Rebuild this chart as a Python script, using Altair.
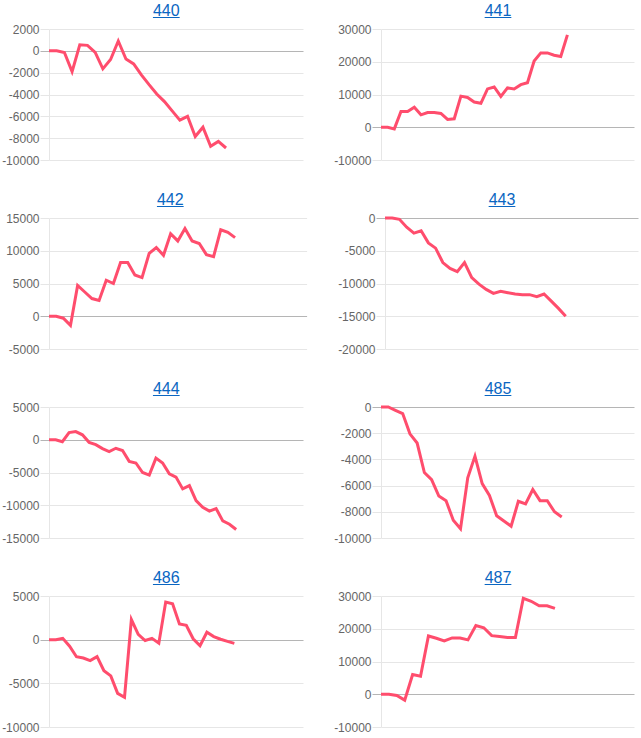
import altair as alt
import pandas as pd

FONT = "Liberation Sans"
LINE_COLOR = "#ff4d6d"
TITLE_COLOR = "#0a66c2"
GRID = "#e6e6e6"
ZERO = "#b5b5b5"

titles = ["440", "441", "442", "443", "444", "485", "486", "487"]

s440 = [0, 0, -150, -1900, 550, 500, -150, -1650, -800, 900, -750, -1200, -2200, -3100,
        -3950, -4650, -5500, -6350, -6000, -7850, -7000, -8750, -8300, -8900]
s441 = [0, 0, -500, 4800, 4800, 6100, 3800, 4500, 4500, 4200, 2400, 2600, 9500, 9100, 7700,
        7300, 11700, 12300, 9400, 12000, 11700, 13000, 13600, 20200, 22700, 22700, 22000,
        21600, 28200]
s442 = [0, 0, -300, -1400, 4700, 3700, 2700, 2400, 5500, 5000, 8200, 8200, 6300, 5900, 9600,
        10500, 9300, 12600, 11500, 13400, 11500, 11100, 9400, 9100, 13200, 12800, 12000]
s443 = [0, 0, -200, -1400, -2300, -1950, -3800, -4600, -6800, -7700, -8200, -6800, -9100,
        -10100, -10900, -11500, -11200, -11400, -11600, -11700, -11700, -12000, -11600,
        -12700, -13800, -15000]
s444 = [0, 0, -300, 1100, 1250, 750, -400, -750, -1350, -1800, -1300, -1650, -3300, -3550,
        -5000, -5400, -2800, -3550, -5200, -5700, -7500, -7000, -9300, -10300, -10900,
        -10500, -12400, -12900, -13700]
s485 = [0, 0, -250, -500, -2050, -2750, -5000, -5550, -6800, -7150, -8650, -9300, -5400,
        -3750, -5850, -6750, -8300, -8700, -9100, -7200, -7400, -6300, -7150, -7150, -8000,
        -8400]
s486 = [0, 0, 150, -750, -1950, -2100, -2400, -1950, -3550, -4150, -6150, -6600, 2300, 600,
        -100, 150, -400, 4300, 4100, 1800, 1650, 100, -700, 850, 350, 50, -200, -420]
s487 = [0, 0, -400, -1800, 6000, 5500, 17800, 17100, 16300, 17200, 17200, 16600, 21000,
        20300, 17900, 17600, 17300, 17300, 29300, 28400, 27000, 27000, 26200]

t440 = [-10000, -8000, -6000, -4000, -2000, 0, 2000]
t441 = [-10000, 0, 10000, 20000, 30000]
t442 = [-5000, 0, 5000, 10000, 15000]
t443 = [-20000, -15000, -10000, -5000, 0]
t444 = [-15000, -10000, -5000, 0, 5000]
t485 = [-10000, -8000, -6000, -4000, -2000, 0]
t486 = [-10000, -5000, 0, 5000]
t487 = [-10000, 0, 10000, 20000, 30000]

series = [s440, s441, s442, s443, s444, s485, s486, s487]
ticks = [t440, t441, t442, t443, t444, t485, t486, t487]

# plot-area geometry per panel: (plot width, title centre relative to plot left)
geom = [(254, 117.3), (253, 117.0), (257.6, 121.3), (253, 117.0),
        (254, 117.3), (253, 117.0), (254, 117.3), (253, 117.0)]
PLOT_H = 131
TITLE_W = 26.7


def panel(name, values, tks, width, cx):
    n = len(values)
    df = pd.DataFrame({"i": list(range(n)), "v": values})
    lo, hi = min(tks), max(tks)
    col_test = "datum.value === 0"
    axis = alt.Axis(
        values=tks, title=None, grid=True,
        gridColor={"condition": {"test": col_test, "value": ZERO}, "value": GRID},
        tickColor={"condition": {"test": col_test, "value": ZERO}, "value": GRID},
        gridWidth=1, tickWidth=1, tickSize=9, labelPadding=1,
        domainColor=GRID, domainWidth=1,
        labelFont=FONT, labelFontSize=12, labelColor="#666666",
        labelExpr="'' + datum.value", labelOverlap=False, labelFlush=False,
    )
    line = alt.Chart(df).mark_line(color=LINE_COLOR, strokeWidth=3, strokeJoin="miter").encode(
        x=alt.X("i:Q", scale=alt.Scale(domain=[0, n + 9], nice=False, zero=False), axis=None),
        y=alt.Y("v:Q", scale=alt.Scale(domain=[lo, hi], nice=False), axis=axis),
    )
    tdf = pd.DataFrame({"t": [name]})
    title_text = alt.Chart(tdf).mark_text(
        font=FONT, fontSize=16, color=TITLE_COLOR, align="center", baseline="alphabetic"
    ).encode(text="t:N", x=alt.value(cx), y=alt.value(-13))
    underline = alt.Chart(tdf).mark_rule(color=TITLE_COLOR, strokeWidth=1).encode(
        x=alt.value(cx - TITLE_W / 2), x2=alt.value(cx + TITLE_W / 2), y=alt.value(-11.5)
    )
    return alt.layer(line, title_text, underline).properties(width=width, height=PLOT_H)


panels = [panel(titles[k], series[k], ticks[k], geom[k][0], geom[k][1]) for k in range(8)]
rows = [alt.hconcat(panels[2 * r], panels[2 * r + 1], spacing=29) for r in range(4)]
chart = alt.vconcat(*rows, spacing=24).properties(
    padding={"left": 1, "top": 2, "right": 0, "bottom": 0}
).configure_view(stroke="transparent")

chart.save("out.html", embed_options={"renderer": "svg", "actions": False})
